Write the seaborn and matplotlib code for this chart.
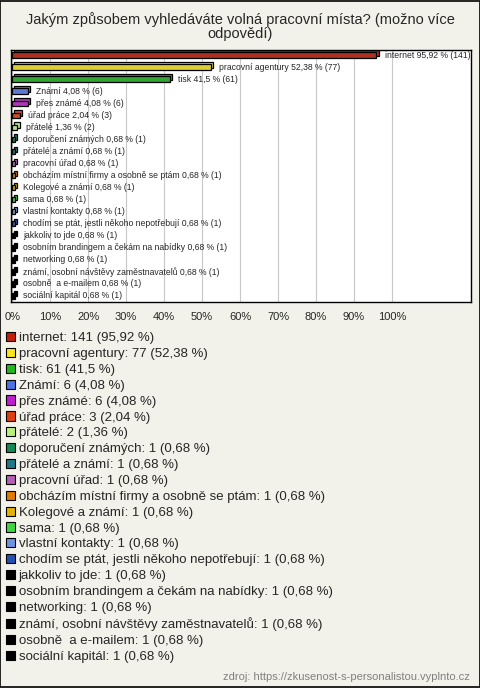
import matplotlib
matplotlib.use("Agg")
import matplotlib.pyplot as plt
import matplotlib.patches as mpatches
import matplotlib.transforms as mtransforms
import pandas as pd
import seaborn as sns

# --- data --- #
answers = ["internet", "pracovní agentury", "tisk", "Známí", "přes známé", "úřad práce",
           "přátelé", "doporučení známých", "přátelé a známí", "pracovní úřad",
           "obcházím místní firmy a osobně se ptám", "Kolegové a známí", "sama",
           "vlastní kontakty", "chodím se ptát, jestli někoho nepotřebují", "jakkoliv to jde",
           "osobním brandingem a čekám na nabídky", "networking",
           "známí, osobní návštěvy zaměstnavatelů", "osobně  a e-mailem", "sociální kapitál"]
counts = [141, 77, 61, 6, 6, 3, 2] + [1] * 14
percent = [95.92, 52.38, 41.5, 4.08, 4.08, 2.04, 1.36] + [0.68] * 14
percent_text = ["95,92", "52,38", "41,5", "4,08", "4,08", "2,04", "1,36"] + ["0,68"] * 14
colors = ["#c41e0a", "#f8e61a", "#1fb81f", "#4a72e6", "#c01fd0", "#e0400f", "#b8f27c",
          "#138a55", "#1f7888", "#b45fb4", "#e07a00", "#e2b300", "#3ed63e", "#6f92e0",
          "#2450b0"] + ["#000000"] * 6
x_ticks = list(range(0, 101, 10))

df = pd.DataFrame({"answer": answers, "percent": percent})

sns.set_style("white")
plt.rcParams["font.family"] = ["Liberation Sans", "DejaVu Sans"]

bg = "#f3f2ea"
fig = plt.figure(figsize=(4.8, 6.88), dpi=100, facecolor=bg)
ax = fig.add_axes([11 / 480, 1 - 302 / 688, 460 / 480, 252 / 688])

sns.barplot(data=df, y="answer", x="percent", hue="answer", palette=colors,
            orient="h", width=0.45, edgecolor="black", linewidth=0.9,
            legend=False, ax=ax, zorder=3)

# simple 3D look: a back face shifted up and right behind each bar
shift = mtransforms.ScaledTranslation(2.2 / 100, 2.2 / 100, fig.dpi_scale_trans)
for bar in list(ax.patches):
    back = mpatches.Rectangle(bar.get_xy(), bar.get_width(), bar.get_height(),
                              facecolor=bar.get_facecolor(), edgecolor="black",
                              linewidth=0.9, transform=ax.transData + shift, zorder=2.5)
    ax.add_patch(back)

ax.set_xlim(-0.3, 120.8)
ax.set_ylim(20.5, -0.42)
ax.set_xticks(x_ticks)
ax.set_xticklabels([f"{t}%" for t in x_ticks], fontsize=8)
ax.tick_params(axis="x", length=0, pad=7)
ax.set_yticks([])
ax.set_xlabel("")
ax.set_ylabel("")
ax.set_facecolor("white")
ax.grid(axis="x", color="#c8c8c8", linewidth=0.8, zorder=0)
for s in ax.spines.values():
    s.set_color("black")
    s.set_linewidth(1)

# value labels next to the bars
for i, (name, p, pt, c) in enumerate(zip(answers, percent, percent_text, counts)):
    ax.annotate(f"{name} {pt} % ({c})", xy=(p, i), xytext=(6, 0),
                textcoords="offset points", va="center", ha="left",
                fontsize=6.2, zorder=4)

fig.suptitle("Jakým způsobem vyhledáváte volná pracovní místa? (možno více\nodpovědí)",
             y=1 - 12 / 688, fontsize=10.5, va="top", linespacing=1.0)

# legend below the chart
handles = [mpatches.Patch(facecolor=col, edgecolor="black", linewidth=0.8,
                          label=f"{name}: {c} ({pt} %)")
           for name, c, pt, col in zip(answers, counts, percent_text, colors)]
fig.legend(handles=handles, loc="upper left", bbox_to_anchor=(6 / 480, 1 - 332 / 688),
           frameon=False, fontsize=9.5, handlelength=0.7, handleheight=0.7,
           handletextpad=0.25, labelspacing=0.275, borderpad=0, borderaxespad=0)

fig.text(470 / 480, 1 - 677 / 688, "zdroj: https://zkusenost-s-personalistou.vyplnto.cz",
         ha="right", va="center", fontsize=8, color="#808080")

fig.patches.append(mpatches.Rectangle((0.001, 0.001), 0.998, 0.998, transform=fig.transFigure,
                                      fill=False, edgecolor="black", linewidth=1.2))

fig.savefig("out.png", dpi=100, facecolor=bg)
